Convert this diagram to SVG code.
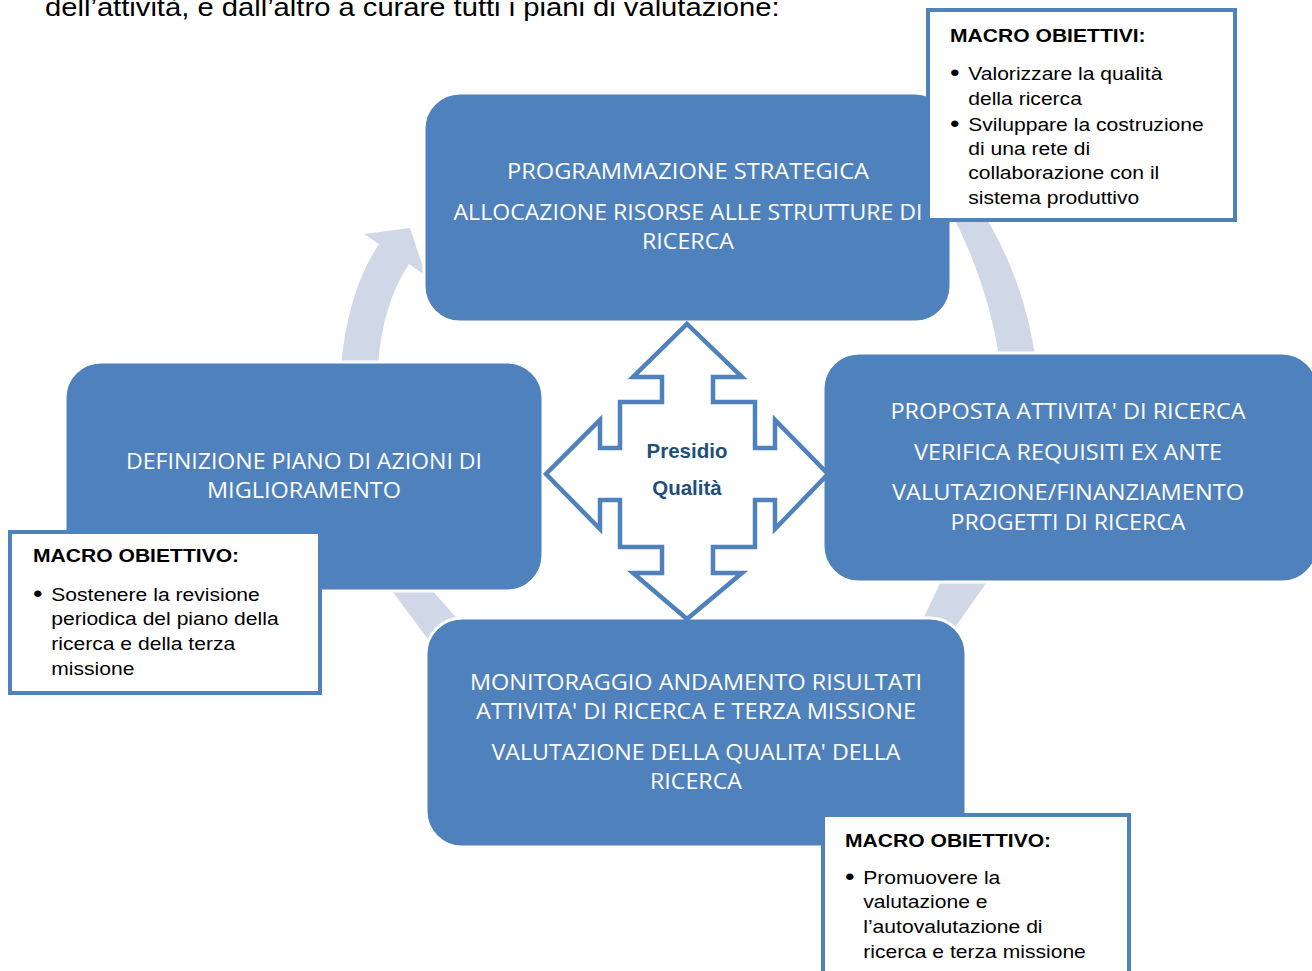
<svg xmlns="http://www.w3.org/2000/svg" width="1312" height="971" viewBox="0 0 1312 971">
<style>
.box{fill:#4F81BD;stroke:#FFFFFF;stroke-width:3}
.arc{fill:#D0D8E8;stroke:none}
.bt{font-family:"Open Sans","Liberation Sans",sans-serif;font-size:21px;fill:#FFFFFF;text-anchor:middle}
.call{fill:#FFFFFF;stroke:#4F81BD;stroke-width:4}
.ch{font-family:"Liberation Sans",Arial,sans-serif;font-size:18.5px;font-weight:bold;fill:#000000}
.ct{font-family:"Liberation Sans",Arial,sans-serif;font-size:18.5px;fill:#000000}
.bl{font-family:"Liberation Sans",Arial,sans-serif;font-size:24px;fill:#000000}
.cen{font-family:"Liberation Sans",Arial,sans-serif;font-size:20.5px;font-weight:bold;fill:#1F4E79;text-anchor:middle}
.para{font-family:"Liberation Sans",Arial,sans-serif;font-size:25.6px;fill:#000000}
</style>
<rect width="1312" height="971" fill="#FFFFFF"/>
<g id="intro-text" transform="translate(45,0) scale(1.14,1)">
<text class="para" x="0" y="16">dell’attività, e dall’altro a curare tutti i piani di valutazione:</text>
</g>
<g id="connectors">
<path class="arc" d="M341,366 Q348,290 379,244 L364,234 L410,228 L426,276 L409,264 Q382,305 378,366 Z"/>
<path class="arc" d="M947,205 Q988,280 1000,362 L1036,362 Q1024,275 978,205 Z"/>
<path class="arc" d="M944,575 L992,575 L946,640 L913,640 Z"/>
<path class="arc" d="M384,580 L423,580 L485,650 L436,650 Z"/>
</g>
<g id="node-top">
<rect class="box" x="424" y="93" width="527" height="229" rx="36"/>
<text class="bt" x="688" y="179" textLength="362" lengthAdjust="spacingAndGlyphs">PROGRAMMAZIONE STRATEGICA</text>
<text class="bt" x="688" y="220" textLength="469" lengthAdjust="spacingAndGlyphs">ALLOCAZIONE RISORSE ALLE STRUTTURE DI</text>
<text class="bt" x="688" y="249" textLength="92" lengthAdjust="spacingAndGlyphs">RICERCA</text>
</g>
<g id="node-right">
<rect class="box" x="823" y="353" width="495" height="229" rx="36"/>
<text class="bt" x="1068" y="419" textLength="355" lengthAdjust="spacingAndGlyphs">PROPOSTA ATTIVITA' DI RICERCA</text>
<text class="bt" x="1068" y="460" textLength="308" lengthAdjust="spacingAndGlyphs">VERIFICA REQUISITI EX ANTE</text>
<text class="bt" x="1068" y="500" textLength="352" lengthAdjust="spacingAndGlyphs">VALUTAZIONE/FINANZIAMENTO</text>
<text class="bt" x="1068" y="530" textLength="235" lengthAdjust="spacingAndGlyphs">PROGETTI DI RICERCA</text>
</g>
<g id="node-left">
<rect class="box" x="65" y="362" width="478" height="229" rx="36"/>
<text class="bt" x="304" y="469" textLength="356" lengthAdjust="spacingAndGlyphs">DEFINIZIONE PIANO DI AZIONI DI</text>
<text class="bt" x="304" y="498" textLength="194" lengthAdjust="spacingAndGlyphs">MIGLIORAMENTO</text>
</g>
<g id="node-bottom">
<rect class="box" x="426" y="618" width="540" height="229" rx="36"/>
<text class="bt" x="696" y="690" textLength="452" lengthAdjust="spacingAndGlyphs">MONITORAGGIO ANDAMENTO RISULTATI</text>
<text class="bt" x="696" y="719" textLength="440" lengthAdjust="spacingAndGlyphs">ATTIVITA' DI RICERCA E TERZA MISSIONE</text>
<text class="bt" x="696" y="760" textLength="409" lengthAdjust="spacingAndGlyphs">VALUTAZIONE DELLA QUALITA' DELLA</text>
<text class="bt" x="696" y="789" textLength="92" lengthAdjust="spacingAndGlyphs">RICERCA</text>
</g>
<g id="node-center">
<path d="M687,324 L742,377 L713,377 L713,402 L755,402 L755,448 L775,448 L775,420 L828,474 L775,529 L775,500 L755,500 L755,547 L713,547 L713,573 L742,573 L687,619 L633,573 L662,573 L662,547 L620,547 L620,500 L600,500 L600,529 L546,474 L600,420 L600,448 L620,448 L620,402 L662,402 L662,377 L633,377 Z" fill="#FFFFFF" stroke="#4F81BD" stroke-width="4.5" stroke-linejoin="miter"/>
<text class="cen" x="687" y="458">Presidio</text>
<text class="cen" x="687" y="495">Qualità</text>
</g>
<g id="callout-top">
<rect class="call" x="928" y="10" width="307" height="210"/>
<g transform="translate(950,0) scale(1.14,1)">
<text class="ch" x="0" y="42">MACRO OBIETTIVI:</text>
<text class="bl" x="0" y="81">•</text>
<text class="ct" x="16" y="80">Valorizzare la qualità</text>
<text class="ct" x="16" y="105">della ricerca</text>
<text class="bl" x="0" y="132">•</text>
<text class="ct" x="16" y="131">Sviluppare la costruzione</text>
<text class="ct" x="16" y="155">di una rete di</text>
<text class="ct" x="16" y="179">collaborazione con il</text>
<text class="ct" x="16" y="204">sistema produttivo</text>
</g>
</g>
<g id="callout-left">
<rect class="call" x="10" y="532" width="310" height="161"/>
<g transform="translate(33,0) scale(1.14,1)">
<text class="ch" x="0" y="562">MACRO OBIETTIVO:</text>
<text class="bl" x="0" y="602">•</text>
<text class="ct" x="16" y="601">Sostenere la revisione</text>
<text class="ct" x="16" y="625">periodica del piano della</text>
<text class="ct" x="16" y="650">ricerca e della terza</text>
<text class="ct" x="16" y="675">missione</text>
</g>
</g>
<g id="callout-bottom">
<rect class="call" x="823" y="815" width="306" height="200"/>
<g transform="translate(845,0) scale(1.14,1)">
<text class="ch" x="0" y="847">MACRO OBIETTIVO:</text>
<text class="bl" x="0" y="885">•</text>
<text class="ct" x="16" y="884">Promuovere la</text>
<text class="ct" x="16" y="908">valutazione e</text>
<text class="ct" x="16" y="933">l’autovalutazione di</text>
<text class="ct" x="16" y="958">ricerca e terza missione</text>
</g>
</g>
</svg>
